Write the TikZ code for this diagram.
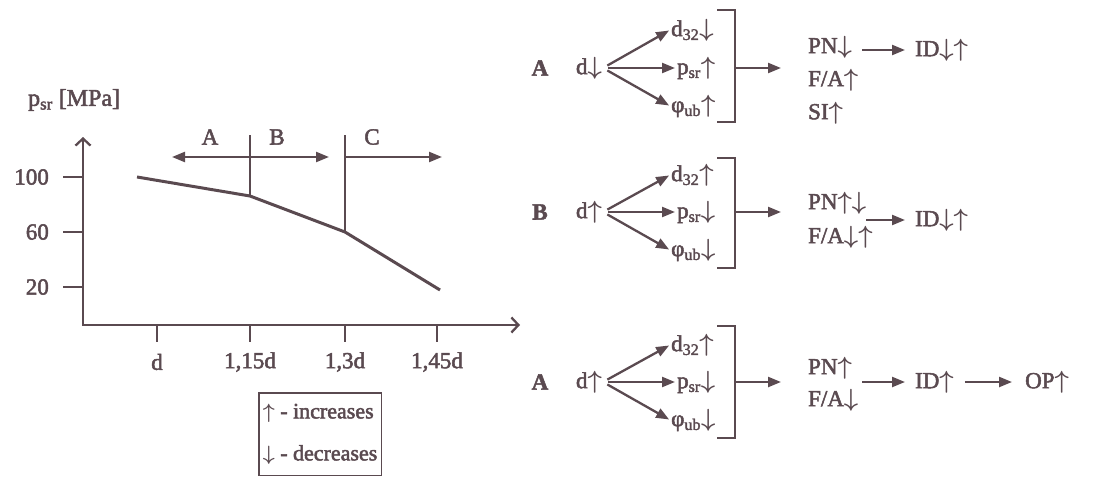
\documentclass[tikz,border=0pt]{standalone}
\usepackage{fontspec}
\setmainfont{Liberation Serif}[RawFeature={embolden=2.2}]
\usepackage{amsmath}
\usepackage{bm}
\usetikzlibrary{arrows.meta}
\definecolor{ink}{RGB}{90,74,80}
\newcommand\upar{\ensuremath{\bm{\uparrow}}}
\newcommand\dnar{\ensuremath{\bm{\downarrow}}}
\begin{document}
\begin{tikzpicture}[x=1pt,y=-1pt, draw=ink, text=ink,
  font=\fontsize{23}{26}\selectfont, line width=2.3pt,
  tip/.style={-{Triangle[length=13pt,width=10pt]}},
  tiptwo/.style={{Triangle[length=13pt,width=10pt]}-{Triangle[length=13pt,width=10pt]}},
  axis/.style={{Straight Barb[length=7pt,width=15pt]}-{Straight Barb[length=7pt,width=15pt]}},
  lbl/.style={inner sep=0pt},
  bold/.style={inner sep=0pt, font=\fontsize{23}{26}\selectfont\bfseries},
  curve/.style={line width=3pt, line join=round},
  bracket/.style={line width=2.2pt},
  fan/.style={tip, shorten <=5pt, shorten >=1pt},
  legend/.style={draw, line width=1.6pt, align=left, inner xsep=4pt, inner ysep=11pt,
     font=\fontsize{22}{42}\selectfont}
]
\useasboundingbox (0,0) rectangle (1109,479);

% ---------- left graph ----------
\coordinate (Ytop) at (83,137);
\coordinate (Xend) at (520,325);
\draw[axis] (Ytop) |- (Xend);
\node[lbl, anchor=west, font=\fontsize{24}{26}\selectfont] (ylab) at (27,100) {p\textsubscript{sr} [MPa]};

\foreach \v/\y in {100/177,60/232,20/287}{
  \coordinate (yt\v) at (63,\y);
  \node[lbl, anchor=east] (yl\v) at (50,\y) {\v};
  \draw (yt\v) -- ++(20,0);
}
\foreach \n/\x/\t in {a/157/d,b/250/{1,15d},c/345/{1,3d},d/437/{1,45d}}{
  \coordinate (xt\n) at (\x,325);
  \draw (xt\n) -- ++(0,17);
  \node[lbl] (xl\n) at (\x,362) {\t};
}

\coordinate (P1) at (137,177);
\coordinate (P2) at (250,196);
\coordinate (P3) at (345,232);
\coordinate (P4) at (440,290);
\draw[curve] (P1) -- (P2) -- (P3) -- (P4);
\coordinate (V1) at (250,135);
\coordinate (V2) at (345,135);
\draw (V1) -- (P2);
\draw (V2) -- (P3);
\coordinate (AL) at (172,157);
\coordinate (AR) at (329,157);
\coordinate (CS) at (345,157);
\coordinate (CR) at (442,157);
\draw[tiptwo] (AL) -- (AR);
\draw[tip] (CS) -- (CR);
\node[lbl] (la) at (210,137) {A};
\node[lbl] (lb) at (277,137) {B};
\node[lbl] (lc) at (372,137) {C};

\node[legend, anchor=north west] (leg) at (258,392) {\upar{} - increases\\\dnar{} - decreases};

% ---------- row 1 ----------
\node[bold] (r1) at (540,68) {A};
\node[lbl, anchor=east] (d1) at (603,68) {d\dnar};
\node[lbl, anchor=west] (a1) at (670,30) {d\textsubscript{32}\dnar};
\node[lbl, anchor=west] (b1) at (676,68) {p\textsubscript{sr}\upar};
\node[lbl, anchor=west] (c1) at (670,106) {φ\textsubscript{ub}\upar};
\draw[fan] (d1.east) -- (a1.west);
\draw[fan] (d1.east) -- (b1.west);
\draw[fan] (d1.east) -- (c1.west);
\draw[bracket] (717,10) -- (735,10) -- (735,122) -- (717,122);
\coordinate (k1) at (735,68);
\coordinate (k1e) at (781,68);
\draw[tip] (k1) -- (k1e);
\node[lbl, anchor=west] (pn1) at (807,47) {PN\dnar};
\node[lbl, anchor=west] (fa1) at (807,80) {F/A\upar};
\node[lbl, anchor=west] (si1) at (807,113) {SI\upar};
\node[lbl, anchor=west] (id1) at (914,50) {ID\dnar\upar};
\coordinate (m1) at (862,50);
\draw[tip, shorten >=9pt] (m1) -- (id1.west);

% ---------- row 2 ----------
\node[bold] (r2) at (540,212) {B};
\node[lbl, anchor=east] (d2) at (603,212) {d\upar};
\node[lbl, anchor=west] (a2) at (670,175) {d\textsubscript{32}\upar};
\node[lbl, anchor=west] (b2) at (676,212) {p\textsubscript{sr}\dnar};
\node[lbl, anchor=west] (c2) at (670,250) {φ\textsubscript{ub}\dnar};
\draw[fan] (d2.east) -- (a2.west);
\draw[fan] (d2.east) -- (b2.west);
\draw[fan] (d2.east) -- (c2.west);
\draw[bracket] (717,158) -- (735,158) -- (735,268) -- (717,268);
\coordinate (k2) at (735,212);
\coordinate (k2e) at (781,212);
\draw[tip] (k2) -- (k2e);
\node[lbl, anchor=west] (pn2) at (807,203) {PN\upar\dnar};
\node[lbl, anchor=west] (fa2) at (807,237) {F/A\dnar\upar};
\node[lbl, anchor=west] (id2) at (914,220) {ID\dnar\upar};
\coordinate (m2) at (866,220);
\draw[tip, shorten >=9pt] (m2) -- (id2.west);

% ---------- row 3 ----------
\node[bold] (r3) at (540,382) {A};
\node[lbl, anchor=east] (d3) at (603,382) {d\upar};
\node[lbl, anchor=west] (a3) at (670,345) {d\textsubscript{32}\upar};
\node[lbl, anchor=west] (b3) at (676,382) {p\textsubscript{sr}\dnar};
\node[lbl, anchor=west] (c3) at (670,420) {φ\textsubscript{ub}\dnar};
\draw[fan] (d3.east) -- (a3.west);
\draw[fan] (d3.east) -- (b3.west);
\draw[fan] (d3.east) -- (c3.west);
\draw[bracket] (717,326) -- (735,326) -- (735,438) -- (717,438);
\coordinate (k3) at (735,382);
\coordinate (k3e) at (781,382);
\draw[tip] (k3) -- (k3e);
\node[lbl, anchor=west] (pn3) at (807,368) {PN\upar};
\node[lbl, anchor=west] (fa3) at (807,400) {F/A\dnar};
\node[lbl, anchor=west] (id3) at (914,382) {ID\upar};
\node[lbl, anchor=west] (op3) at (1024,382) {OP\upar};
\coordinate (m3) at (862,382);
\draw[tip, shorten >=9pt] (m3) -- (id3.west);
\draw[tip, shorten <=10pt, shorten >=12pt] (id3.east) -- (op3.west);
\end{tikzpicture}
\end{document}
